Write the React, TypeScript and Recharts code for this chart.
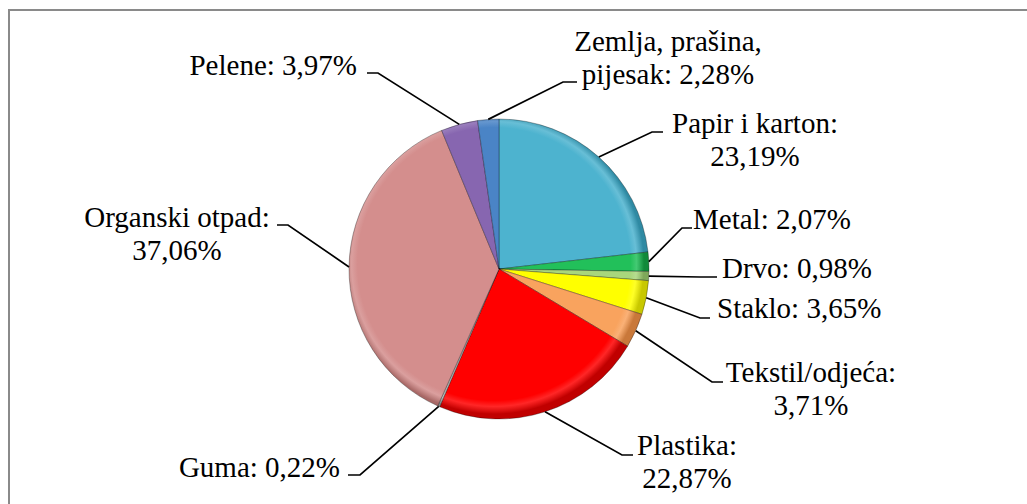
import { PieChart, Pie, Cell } from "recharts";

// composition of municipal waste (%)
const categories = [
  "Papir i karton",
  "Metal",
  "Drvo",
  "Staklo",
  "Tekstil/odjeća",
  "Plastika",
  "Guma",
  "Organski otpad",
  "Pelene",
  "Zemlja, prašina, pijesak",
];
const shares = [23.19, 2.07, 0.98, 3.65, 3.71, 22.87, 0.22, 37.06, 3.97, 2.28];
const colors = [
  "#4DB3CF",
  "#22C05A",
  "#A9D67C",
  "#FFFF00",
  "#F9A35E",
  "#FF0000",
  "#B4B4B4",
  "#D48E8D",
  "#8766B0",
  "#4A84C6",
];
const rims = [
  "#2F8AA3",
  "#118A3A",
  "#7FA85A",
  "#C8C800",
  "#C9783A",
  "#C00000",
  "#858585",
  "#A86866",
  "#5E4585",
  "#2E5E96",
];

// label placement: elbow point, end of the short horizontal, text position
type LabelPos = {
  ex: number; ey: number; hx: number;
  tx: number; ty: number;
  anchor: "start" | "middle" | "end";
  breakAfter?: string;
};
const labelLayout: LabelPos[] = [
  { ex: 652, ey: 132, hx: 663, tx: 755, ty: 133, anchor: "middle", breakAfter: ":" },
  { ex: 682, ey: 228, hx: 692, tx: 693, ty: 229, anchor: "start" },
  { ex: 700, ey: 277, hx: 717, tx: 722, ty: 278, anchor: "start" },
  { ex: 700, ey: 318, hx: 710, tx: 717, ty: 318, anchor: "start" },
  { ex: 712, ey: 382, hx: 723, tx: 811, ty: 382, anchor: "middle", breakAfter: ":" },
  { ex: 622, ey: 455, hx: 633, tx: 687, ty: 455, anchor: "middle", breakAfter: ":" },
  { ex: 360, ey: 475, hx: 348, tx: 340, ty: 477, anchor: "end" },
  { ex: 288, ey: 225, hx: 277, tx: 177, ty: 227, anchor: "middle", breakAfter: ":" },
  { ex: 378, ey: 73, hx: 367, tx: 357, ty: 75, anchor: "end" },
  { ex: 563, ey: 82, hx: 577, tx: 668, ty: 51, anchor: "middle", breakAfter: "prašina," },
];

const data = categories.map((name, i) => ({ name, value: shares[i] }));

const RAD = Math.PI / 180;
const LINE_H = 33;
const CX = 494;
const CY = 264;
const R = 150;

const fmt = (v: number) => v.toFixed(2).replace(".", ",") + "%";

const renderLabel = (props: any) => {
  const { cx, cy, midAngle, outerRadius, index } = props;
  const pos = labelLayout[index];
  const sx = cx + outerRadius * Math.cos(-midAngle * RAD);
  const sy = cy + outerRadius * Math.sin(-midAngle * RAD);
  const full = `${categories[index]}: ${fmt(shares[index])}`;
  let lines = [full];
  if (pos.breakAfter) {
    const k = full.indexOf(pos.breakAfter) + pos.breakAfter.length;
    lines = [full.slice(0, k), full.slice(k).trim()];
  }
  return (
    <g key={`lbl-${index}`}>
      <path
        d={`M${sx},${sy}L${pos.ex},${pos.ey}L${pos.hx},${pos.ey}`}
        stroke="#000"
        strokeWidth={1.7}
        fill="none"
      />
      <text
        x={pos.tx}
        y={pos.ty}
        textAnchor={pos.anchor}
        style={{ fontFamily: "'Liberation Serif', 'Times New Roman', serif" }}
        fontSize={29}
        fill="#000"
      >
        {lines.map((t, j) => (
          <tspan key={j} x={pos.tx} dy={j === 0 ? 0 : LINE_H}>
            {t}
          </tspan>
        ))}
      </text>
    </g>
  );
};

export default function App() {
  return (
    <div
      style={{
        position: "fixed",
        left: 0,
        top: 0,
        width: 1027,
        height: 504,
        background: "#fff",
        overflow: "hidden",
      }}
    >
      <div
        style={{
          position: "absolute",
          left: 8,
          top: 9,
          width: 1017,
          height: 520,
          border: "2px solid #8a8a8a",
        }}
      />
      <div style={{ position: "absolute", left: 0, top: 0 }}>
        <PieChart width={1027} height={504}>
          <defs>
            {colors.map((c, i) => (
              <radialGradient
                key={i}
                id={`bevel-${i}`}
                gradientUnits="userSpaceOnUse"
                cx={CX}
                cy={CY}
                r={R}
              >
                <stop offset="0%" stopColor={c} />
                <stop offset="91%" stopColor={c} />
                <stop offset="95%" stopColor={c} stopOpacity={0.85} />
                <stop offset="100%" stopColor={rims[i]} />
              </radialGradient>
            ))}
          </defs>
          <Pie
            data={data}
            dataKey="value"
            nameKey="name"
            cx={CX}
            cy={CY}
            outerRadius={R}
            startAngle={90}
            endAngle={-270}
            stroke="rgba(0,0,0,0.3)"
            strokeWidth={1}
            label={renderLabel}
            labelLine={false}
            isAnimationActive={false}
          >
            {data.map((d, i) => (
              <Cell key={d.name} fill={`url(#bevel-${i})`} />
            ))}
          </Pie>
        </PieChart>
      </div>
    </div>
  );
}
